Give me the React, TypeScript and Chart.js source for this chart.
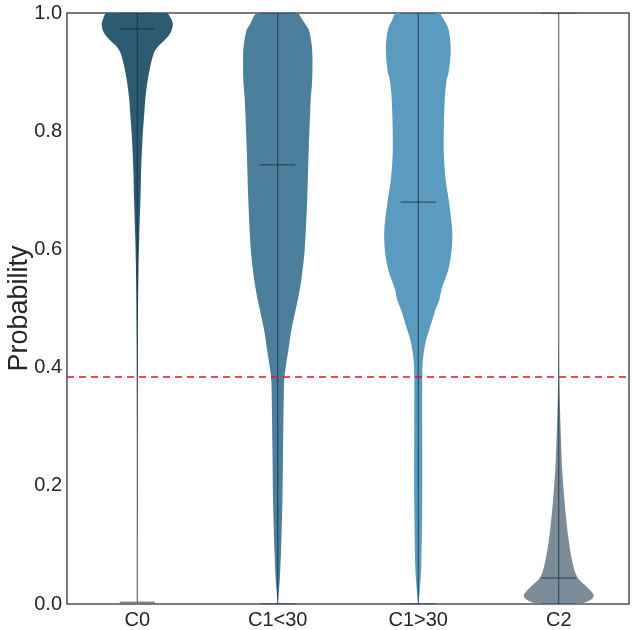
import React, { useEffect, useRef } from "react";
import { Chart, registerables } from "chart.js";

Chart.register(...registerables);

// ---------- data ----------
const categories = ["C0", "C1<30", "C1>30", "C2"];
const fillColors = ["#2d5b72", "#4b7f9c", "#5b9bbf", "#7b8c98"];
const lineColor = "rgba(22, 45, 60, 0.82)";
const yTicks = [0, 0.2, 0.4, 0.6, 0.8, 1.0];
const medians = [0.973, 0.743, 0.68, 0.044];
const mins = [0.003, 0.0, 0.0, 0.0];
const maxs = [1.0, 1.0, 1.0, 1.0];
const threshold = 0.384;

// density profiles (probability level, relative density)
const c0Levels = [1.0, 0.988, 0.98, 0.966, 0.954, 0.943, 0.932, 0.909, 0.881, 0.853, 0.82, 0.797, 0.74, 0.689, 0.62, 0.55, 0.45, 0.3, 0.15, 0.003];
const c0Density = [30.6, 34.6, 35.6, 33.3, 27.3, 20.6, 16.6, 13, 10, 8, 6.6, 5.6, 4, 3.3, 2, 1.1, 0.5, 0.2, 0.1, 0];

const c1aLevels = [1.0, 0.98, 0.97, 0.937, 0.887, 0.853, 0.768, 0.684, 0.6, 0.548, 0.514, 0.464, 0.43, 0.384, 0.345, 0.26, 0.176, 0.09, 0.04, 0.0];
const c1aDensity = [20.5, 28, 31.5, 34.5, 34.5, 33, 31, 29.5, 27, 23.5, 20, 13.7, 10.7, 6.7, 6, 5.3, 4.7, 3.3, 2, 0];

const c1bLevels = [1.0, 0.985, 0.97, 0.937, 0.9, 0.887, 0.853, 0.768, 0.717, 0.684, 0.633, 0.6, 0.565, 0.531, 0.514, 0.497, 0.48, 0.464, 0.447, 0.43, 0.41, 0.384, 0.3, 0.176, 0.063, 0.024, 0.0];
const c1bDensity = [21.5, 27, 30.7, 32.5, 30.5, 28.5, 26.5, 25.5, 27.5, 30.5, 34, 33.5, 30, 23, 21, 17, 14, 11, 8, 6, 4.5, 4, 4, 4, 3, 1.5, 0];

const c2Levels = [1.0, 0.45, 0.4, 0.345, 0.29, 0.232, 0.176, 0.12, 0.074, 0.046, 0.029, 0.015, 0.007, 0.0];
const c2Density = [0, 0.1, 0.3, 1, 2, 3.3, 5.7, 9, 13.3, 18.3, 28, 35, 32, 20];

const violinLevels = [c0Levels, c1aLevels, c1bLevels, c2Levels];
const violinDensity = [c0Density, c1aDensity, c1bDensity, c2Density];

const MAX_HALF_WIDTH = 0.253; // in category units
const CAP_HALF = 0.125;
const FONT = "'Liberation Sans', Arial, sans-serif";

export default function App() {
  const ref = useRef<HTMLCanvasElement | null>(null);

  useEffect(() => {
    if (!ref.current) return;
    const maxD = Math.max(...violinDensity.map((d) => Math.max(...d)));

    const datasets: any[] = [];
    violinLevels.forEach((levels, i) => {
      const c = i + 1;
      const dens = violinDensity[i];
      const right = levels.map((y, k) => ({ x: c + (dens[k] / maxD) * MAX_HALF_WIDTH, y }));
      const left = levels
        .map((y, k) => ({ x: c - (dens[k] / maxD) * MAX_HALF_WIDTH, y }))
        .reverse();
      const poly = [...right, ...left, right[0]];
      datasets.push({
        data: poly,
        borderWidth: 0,
        borderColor: "rgba(0,0,0,0)",
        backgroundColor: fillColors[i],
        fill: "shape",
        pointRadius: 0,
        tension: 0.3,
        order: 2,
      });
    });

    violinLevels.forEach((_, i) => {
      const c = i + 1;
      datasets.push({
        data: [
          { x: c, y: mins[i] },
          { x: c, y: maxs[i] },
          { x: c, y: null },
          { x: c - CAP_HALF, y: mins[i] },
          { x: c + CAP_HALF, y: mins[i] },
          { x: c, y: null },
          { x: c - CAP_HALF, y: maxs[i] },
          { x: c + CAP_HALF, y: maxs[i] },
          { x: c, y: null },
          { x: c - CAP_HALF, y: medians[i] },
          { x: c + CAP_HALF, y: medians[i] },
        ],
        borderColor: lineColor,
        borderWidth: 1,
        fill: false,
        pointRadius: 0,
        spanGaps: false,
        tension: 0,
        order: 1,
      });
    });

    datasets.push({
      data: [
        { x: 0.5, y: threshold },
        { x: 4.5, y: threshold },
      ],
      borderColor: "#e0141e",
      borderWidth: 1.4,
      borderDash: [7, 5],
      fill: false,
      pointRadius: 0,
      order: 0,
    });

    const framePlugin = {
      id: "frame",
      beforeDatasetsDraw(chart: any) {
        const { ctx, chartArea } = chart;
        ctx.save();
        ctx.strokeStyle = "#333333";
        ctx.lineWidth = 1.3;
        ctx.strokeRect(chartArea.left, chartArea.top, chartArea.right - chartArea.left, chartArea.bottom - chartArea.top);
        ctx.restore();
      },
    };

    const chart = new Chart(ref.current, {
      type: "line",
      data: { datasets },
      plugins: [framePlugin],
      options: {
        animation: false,
        responsive: true,
        maintainAspectRatio: false,
        layout: { padding: { top: 13, right: 4, left: 0, bottom: 0 } },
        plugins: { legend: { display: false }, tooltip: { enabled: false } },
        scales: {
          x: {
            type: "linear",
            min: 0.5,
            max: 4.5,
            grid: { display: false, drawTicks: false },
            border: { display: false },
            afterBuildTicks: (scale: any) => {
              scale.ticks = categories.map((_, i) => ({ value: i + 1 }));
            },
            afterFit: (scale: any) => {
              scale.height = 26;
              scale.paddingLeft = 0;
              scale.paddingRight = 0;
            },
            ticks: {
              padding: 4,
              color: "#262626",
              font: { family: FONT, size: 20 },
              callback: (v: any) => categories[Math.round(Number(v)) - 1] ?? "",
              maxRotation: 0,
              autoSkip: false,
            },
          },
          y: {
            type: "linear",
            min: 0,
            max: 1,
            grid: { display: false, drawTicks: false },
            border: { display: false },
            afterBuildTicks: (scale: any) => {
              scale.ticks = yTicks.map((v) => ({ value: v }));
            },
            afterFit: (scale: any) => {
              scale.width = 67;
              scale.paddingTop = 0;
              scale.paddingBottom = 0;
            },
            title: {
              display: true,
              text: "Probability",
              color: "#262626",
              font: { family: FONT, size: 27 },
              padding: { top: 3, bottom: 0 },
            },
            ticks: {
              padding: 5,
              color: "#262626",
              font: { family: FONT, size: 20 },
              callback: (v: any) => Number(v).toFixed(1),
            },
          },
        },
      },
    });
    return () => chart.destroy();
  }, []);

  return (
    <div style={{ position: "fixed", left: 0, top: 0, width: 633, height: 630, background: "#fff" }}>
      <canvas ref={ref} />
    </div>
  );
}
